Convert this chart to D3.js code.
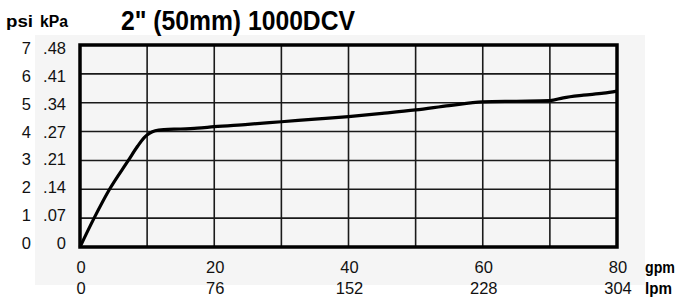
<!DOCTYPE html>
<html>
<head>
<meta charset="utf-8">
<script src="https://cdn.jsdelivr.net/npm/d3@7"></script>
<style>
  html, body { margin: 0; padding: 0; background: #ffffff; }
  svg { display: block; }
</style>
</head>
<body>
<svg id="chart" width="678" height="297"></svg>
<script>
// ---- data ----
const title = "2\" (50mm) 1000DCV";
const flowGpm = [0, 2.1, 4.4, 7.2, 8.6, 9.6, 10.4, 11.2, 12.5, 15, 17.5, 20, 25, 30, 35, 40, 45, 50, 55, 60, 65, 70, 72, 75, 78, 80];
const lossPsi = [0, 1, 2, 3, 3.5, 3.8, 3.95, 4.03, 4.07, 4.09, 4.12, 4.17, 4.25, 4.34, 4.43, 4.52, 4.63, 4.75, 4.9, 5.03, 5.05, 5.07, 5.17, 5.26, 5.33, 5.4];
const psiTicks = [0, 1, 2, 3, 4, 5, 6, 7];
const kpaLabels = ["0", ".07", ".14", ".21", ".27", ".34", ".41", ".48"];
const gpmTicks = [0, 20, 40, 60, 80];
const lpmLabels = ["0", "76", "152", "228", "304"];
const gridGpm = [10, 20, 30, 40, 50, 60, 70];
const gridPsi = [1, 2, 3, 4, 5, 6];

// ---- layout ----
const svg = d3.select("#chart");
const x = d3.scaleLinear().domain([0, 80]).range([80, 617]);
const y = d3.scaleLinear().domain([0, 7]).range([247, 45]);
const yLab = d3.scaleLinear().domain([0, 7]).range([243, 48]);
const font = "'Liberation Sans Narrow', 'Liberation Sans', Arial, sans-serif";

// gray panel
svg.append("rect").attr("x", 35).attr("y", 35).attr("width", 610).attr("height", 250)
  .attr("fill", "#f5f5f5");

// grid
svg.append("g").selectAll("line").data(gridGpm).join("line")
  .attr("x1", d => x(d)).attr("x2", d => x(d))
  .attr("y1", y(0)).attr("y2", y(7))
  .attr("stroke", "#1a1a1a").attr("stroke-width", 1.6);
svg.append("g").selectAll("line").data(gridPsi).join("line")
  .attr("x1", x(0)).attr("x2", x(80))
  .attr("y1", d => y(d)).attr("y2", d => y(d))
  .attr("stroke", "#1a1a1a").attr("stroke-width", 1.6);

// curve
const pts = flowGpm.map((g, i) => [g, lossPsi[i]]);
svg.append("path").datum(pts)
  .attr("d", d3.line().x(d => x(d[0])).y(d => y(d[1])).curve(d3.curveMonotoneX))
  .attr("fill", "none").attr("stroke", "#000").attr("stroke-width", 3.2)
  .attr("stroke-linejoin", "round");

// frame
svg.append("rect").attr("x", x(0)).attr("y", y(7))
  .attr("width", x(80) - x(0)).attr("height", y(0) - y(7))
  .attr("fill", "none").attr("stroke", "#000").attr("stroke-width", 3.5);

// y labels
svg.append("g").selectAll("text").data(psiTicks).join("text")
  .attr("x", 31).attr("y", d => yLab(d)).attr("dy", "0.36em")
  .attr("text-anchor", "end").attr("font-family", font).attr("font-size", 16.5)
  .attr("fill", "#111").text(d => d);
svg.append("g").selectAll("text").data(psiTicks).join("text")
  .attr("x", 66).attr("y", d => yLab(d)).attr("dy", "0.36em")
  .attr("text-anchor", "end").attr("font-family", font).attr("font-size", 16.5)
  .attr("fill", "#111").text((d, i) => kpaLabels[i]);

// x labels
svg.append("g").selectAll("text").data(gpmTicks).join("text")
  .attr("x", d => x(d) + 1).attr("y", 273)
  .attr("text-anchor", "middle").attr("font-family", font).attr("font-size", 16.5)
  .attr("fill", "#111").text(d => d);
svg.append("g").selectAll("text").data(gpmTicks).join("text")
  .attr("x", d => x(d) + 1).attr("y", 294)
  .attr("text-anchor", "middle").attr("font-family", font).attr("font-size", 16.5)
  .attr("fill", "#111").text((d, i) => lpmLabels[i]);

// unit labels
const bold = { "font-family": font, "font-weight": "bold", "font-size": 16, "fill": "#000", "lengthAdjust": "spacingAndGlyphs" };
function addText(t, px, py, len, style) {
  const el = svg.append("text").attr("x", px).attr("y", py).attr("textLength", len).text(t);
  Object.entries(style).forEach(([k, v]) => el.attr(k, v));
  return el;
}
addText("gpm", 645, 273, 30, bold);
addText("lpm", 645, 294, 27, bold);
addText("psi", 6, 27, 27, bold);
addText("kPa", 40, 27, 28, bold);

// title
svg.append("text").attr("x", 121).attr("y", 30)
  .attr("font-family", "'Liberation Sans', Arial, sans-serif").attr("font-weight", "bold")
  .attr("font-size", 28).attr("textLength", 234).attr("lengthAdjust", "spacingAndGlyphs")
  .text(title);
</script>
</body>
</html>
